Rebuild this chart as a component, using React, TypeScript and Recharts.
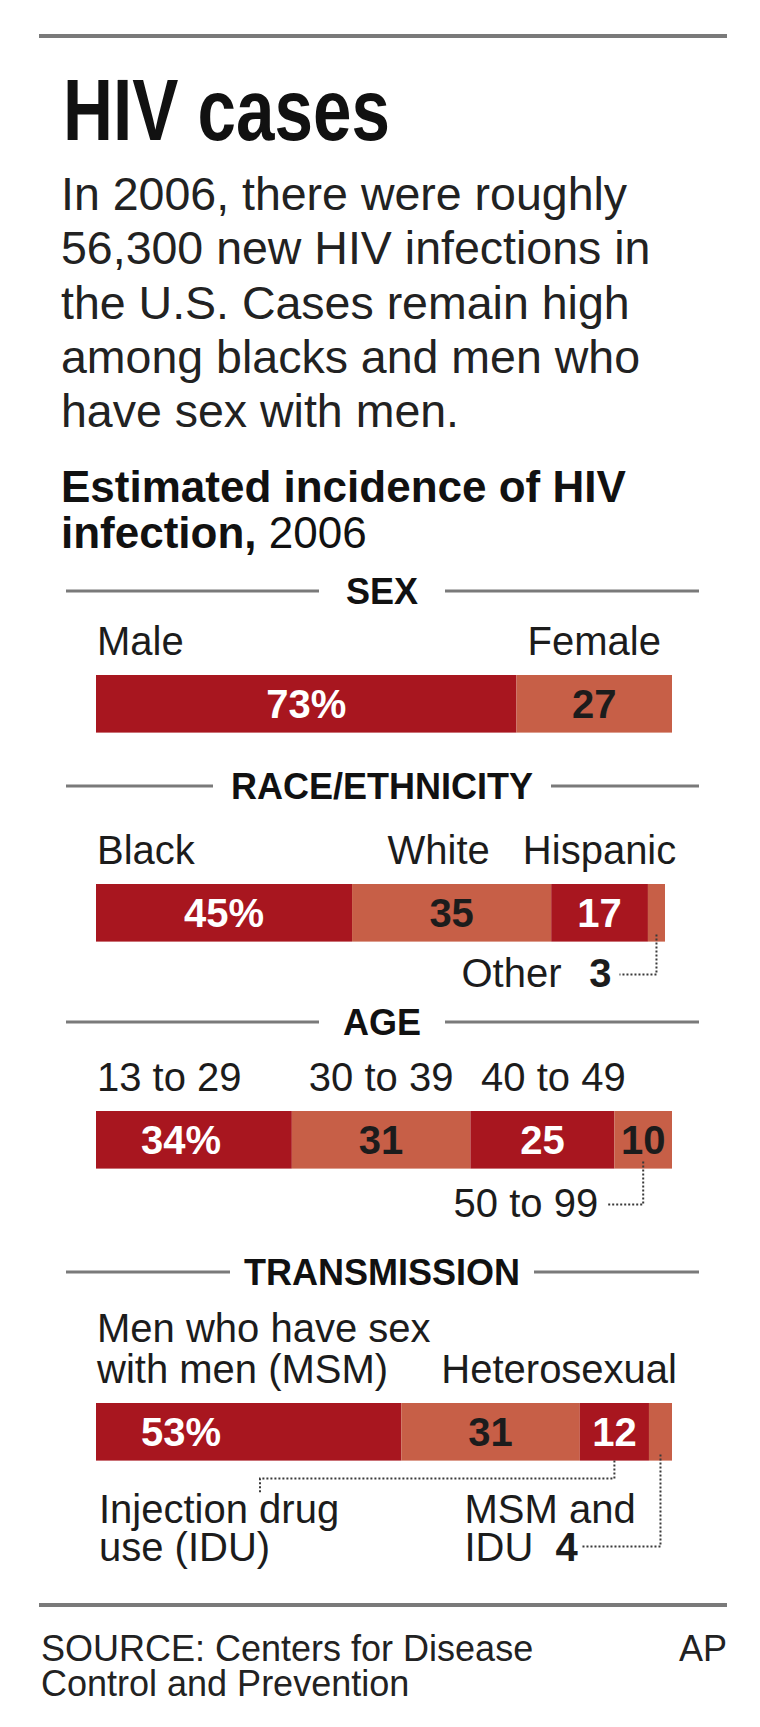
import React from "react";
import { Bar, BarChart, XAxis, YAxis } from "recharts";

const sexCategories = ["Male", "Female"];
const sexValues = [73, 27];

const raceCategories = ["Black", "White", "Hispanic", "Other"];
const raceValues = [45, 35, 17, 3];

const ageCategories = ["13 to 29", "30 to 39", "40 to 49", "50 to 99"];
const ageValues = [34, 31, 25, 10];

const transmissionCategories = [
  "Men who have sex\nwith men (MSM)",
  "Heterosexual",
  "Injection drug\nuse (IDU)",
  "MSM and\nIDU",
];
const transmissionValues = [53, 31, 12, 4];

const introLines = [
  "In 2006, there were roughly",
  "56,300 new HIV infections in",
  "the U.S. Cases remain high",
  "among blacks and men who",
  "have sex with men.",
];

// ---- look ----
const DARK = "#a8161f";
const LIGHT = "#c75f47";
const INK = "#1c1c1c";
const RULE = "#7a7a7a";
const LEADER = "#3a3a3a";
const FONT = "'Liberation Sans', Arial, Helvetica, sans-serif";

const W = 760;
const BAR_LEFT = 96;
const BAR_H = 64;
const PAD_TOP = 110;
const PAD_BOTTOM = 125;
const CENTER = 382;

type NamePos = "start" | "middle" | "barEnd" | "none";
type ValuePos = "middle" | "start" | "none";
type Geo = { x: number; y: number; width: number; height: number; cx: number; bottom: number };

type Section = {
  key: string;
  categories: string[];
  values: number[];
  barTop: number;
  barRight: number;
  namePos: NamePos[];
  nameDx?: number[];
  valuePos: ValuePos[];
  note?: (i: number, g: Geo, s: Section) => React.ReactNode;
};

const dotted = {
  fill: "none",
  stroke: LEADER,
  strokeWidth: 2,
  strokeDasharray: "2 2",
};

// leader going down from a segment and then left to a right-aligned note
function leftNote(g: Geo, drop: number, label: string, bold?: string) {
  const textY = g.bottom + drop + 12;
  return (
    <g>
      <polyline
        points={`${g.cx},${g.bottom - 7} ${g.cx},${g.bottom + drop} ${g.cx - 37},${g.bottom + drop}`}
        {...dotted}
      />
      {bold && (
        <text
          x={g.cx - 45}
          y={textY}
          textAnchor="end"
          fontSize={40}
          fontWeight="bold"
          fill={INK}
          fontFamily={FONT}
        >
          {bold}
        </text>
      )}
      <text
        x={bold ? g.cx - 95 : g.cx - 45}
        y={textY}
        textAnchor="end"
        fontSize={40}
        fill={INK}
        fontFamily={FONT}
      >
        {label}
      </text>
    </g>
  );
}

const sections: Section[] = [
  {
    key: "sex",
    categories: sexCategories,
    values: sexValues,
    barTop: 672,
    barRight: 672,
    namePos: ["start", "middle"],
    valuePos: ["middle", "middle"],
  },
  {
    key: "race",
    categories: raceCategories,
    values: raceValues,
    barTop: 881,
    barRight: 665,
    namePos: ["start", "middle", "middle", "none"],
    nameDx: [0, -13, 0, 0],
    valuePos: ["middle", "middle", "middle", "none"],
    note: (i, g, s) =>
      i === 3 ? leftNote(g, 33, s.categories[i], String(s.values[i])) : null,
  },
  {
    key: "age",
    categories: ageCategories,
    values: ageValues,
    barTop: 1108,
    barRight: 672,
    namePos: ["start", "middle", "middle", "none"],
    nameDx: [0, 0, 11, 0],
    valuePos: ["start", "middle", "middle", "middle"],
    note: (i, g, s) => (i === 3 ? leftNote(g, 36, s.categories[i]) : null),
  },
  {
    key: "transmission",
    categories: transmissionCategories,
    values: transmissionValues,
    barTop: 1400,
    barRight: 672,
    namePos: ["start", "barEnd", "none", "none"],
    valuePos: ["start", "middle", "middle", "none"],
    note: (i, g, s) => {
      const lines = s.categories[i].split("\n");
      if (i === 2) {
        const ex = BAR_LEFT + 164;
        return (
          <g>
            <polyline
              points={`${g.cx},${g.bottom} ${g.cx},${g.bottom + 18} ${ex},${g.bottom + 18} ${ex},${g.bottom + 32}`}
              {...dotted}
            />
            <text fontSize={40} fill={INK} fontFamily={FONT}>
              {lines.map((l, k) => (
                <tspan key={k} x={BAR_LEFT + 3} y={g.bottom + 62 + k * 38}>
                  {l}
                </tspan>
              ))}
            </text>
          </g>
        );
      }
      if (i === 3) {
        const tx = g.cx - 196;
        return (
          <g>
            <polyline
              points={`${g.cx},${g.bottom - 6} ${g.cx},${g.bottom + 86} ${g.cx - 78},${g.bottom + 86}`}
              {...dotted}
            />
            <text fontSize={40} fill={INK} fontFamily={FONT}>
              <tspan x={tx} y={g.bottom + 62}>
                {lines[0]}
              </tspan>
              <tspan x={tx} y={g.bottom + 100}>
                {lines[1]}
              </tspan>
            </text>
            <text
              x={g.cx - 105}
              y={g.bottom + 100}
              fontSize={40}
              fontWeight="bold"
              fill={INK}
              fontFamily={FONT}
            >
              {String(s.values[i])}
            </text>
          </g>
        );
      }
      return null;
    },
  },
];

function renderSegment(s: Section, i: number, p: any) {
  const x = Number(p.x);
  const y = Number(p.y);
  const width = Number(p.width);
  const height = Number(p.height);
  const fill = i % 2 === 0 ? DARK : LIGHT;
  const g: Geo = { x, y, width, height, cx: x + width / 2, bottom: y + height };

  // category name above the bar
  let name: React.ReactNode = null;
  const pos = s.namePos[i];
  if (pos !== "none") {
    const lines = s.categories[i].split("\n");
    const anchor = pos === "start" ? "start" : pos === "middle" ? "middle" : "end";
    const nx =
      pos === "start"
        ? x + 1
        : pos === "middle"
        ? g.cx + (s.nameDx ? s.nameDx[i] : 0)
        : s.barRight + 5;
    name = (
      <text textAnchor={anchor} fontSize={40} fill={INK} fontFamily={FONT}>
        {lines.map((l, k) => (
          <tspan key={k} x={nx} y={y - 20 - (lines.length - 1 - k) * 41}>
            {l}
          </tspan>
        ))}
      </text>
    );
  }

  // value inside the bar
  let value: React.ReactNode = null;
  const vp = s.valuePos[i];
  if (vp !== "none") {
    const txt = i === 0 ? `${s.values[i]}%` : String(s.values[i]);
    value = (
      <text
        x={vp === "start" ? x + 45 : g.cx}
        y={y + height / 2 + 14}
        textAnchor={vp === "start" ? "start" : "middle"}
        fontSize={40}
        fontWeight="bold"
        fill={i % 2 === 0 ? "#ffffff" : INK}
        fontFamily={FONT}
      >
        {txt}
      </text>
    );
  }

  return (
    <g>
      <rect x={x} y={y} width={width} height={height} fill={fill} />
      {name}
      {value}
      {s.note ? s.note(i, g, s) : null}
    </g>
  );
}

function StackedSection({ s }: { s: Section }) {
  const row: Record<string, number | string> = { name: s.key };
  s.values.forEach((v, i) => {
    row[`v${i}`] = v;
  });
  const h = PAD_TOP + BAR_H + PAD_BOTTOM;
  return (
    <div style={{ position: "absolute", left: 0, top: s.barTop - PAD_TOP, width: W, height: h }}>
      <BarChart
        width={W}
        height={h}
        data={[row]}
        layout="vertical"
        barCategoryGap={0}
        margin={{ top: PAD_TOP, bottom: PAD_BOTTOM, left: BAR_LEFT, right: W - s.barRight }}
      >
        <XAxis type="number" domain={[0, 100]} hide />
        <YAxis type="category" dataKey="name" hide />
        {s.values.map((_, i) => (
          <Bar
            key={`${s.key}-${i}`}
            dataKey={`v${i}`}
            stackId="a"
            barSize={BAR_H}
            fill={i % 2 === 0 ? DARK : LIGHT}
            isAnimationActive={false}
            shape={(p: any) => renderSegment(s, i, p)}
          />
        ))}
      </BarChart>
    </div>
  );
}

// section headers: [label, y of rule, half gap around text]
const headers: [string, number, number][] = [
  ["SEX", 591, 63],
  ["RACE/ETHNICITY", 786, 169],
  ["AGE", 1022, 63],
  ["TRANSMISSION", 1272, 152],
];

export default function App() {
  return (
    <div
      style={{
        position: "absolute",
        left: 0,
        top: 0,
        width: W,
        height: 1727,
        background: "#ffffff",
        overflow: "hidden",
      }}
    >
      <svg width={W} height={1727} style={{ position: "absolute", left: 0, top: 0 }} fontFamily={FONT}>
        <rect x={39} y={34} width={688} height={4} fill={RULE} />
        <text
          x={63}
          y={140}
          fontSize={88}
          fontWeight="bold"
          fill="#111"
          textLength={327}
          lengthAdjust="spacingAndGlyphs"
        >
          HIV cases
        </text>
        <text fontSize={46.5} fill="#222">
          {introLines.map((l, k) => (
            <tspan key={k} x={61} y={210 + k * 54.3}>
              {l}
            </tspan>
          ))}
        </text>
        <text fontSize={44} fill="#111">
          <tspan x={61} y={502} fontWeight="bold">
            Estimated incidence of HIV
          </tspan>
          <tspan x={61} y={548} fontWeight="bold">
            infection,
          </tspan>
          <tspan> 2006</tspan>
        </text>

        {headers.map(([label, y, half]) => (
          <g key={label}>
            <rect x={66} y={y - 1.5} width={CENTER - half - 66} height={3} fill={RULE} />
            <rect x={CENTER + half} y={y - 1.5} width={699 - CENTER - half} height={3} fill={RULE} />
            <text x={CENTER} y={y + 13} textAnchor="middle" fontSize={36} fontWeight="bold" fill="#111">
              {label}
            </text>
          </g>
        ))}

        <rect x={39} y={1603} width={688} height={4} fill={RULE} />
        <text fontSize={36} fill="#222">
          <tspan x={41} y={1661}>
            SOURCE: Centers for Disease
          </tspan>
          <tspan x={41} y={1696}>
            Control and Prevention
          </tspan>
        </text>
        <text x={727} y={1661} textAnchor="end" fontSize={36} fill="#222">
          AP
        </text>
      </svg>

      {sections.map((s) => (
        <StackedSection key={s.key} s={s} />
      ))}
    </div>
  );
}
